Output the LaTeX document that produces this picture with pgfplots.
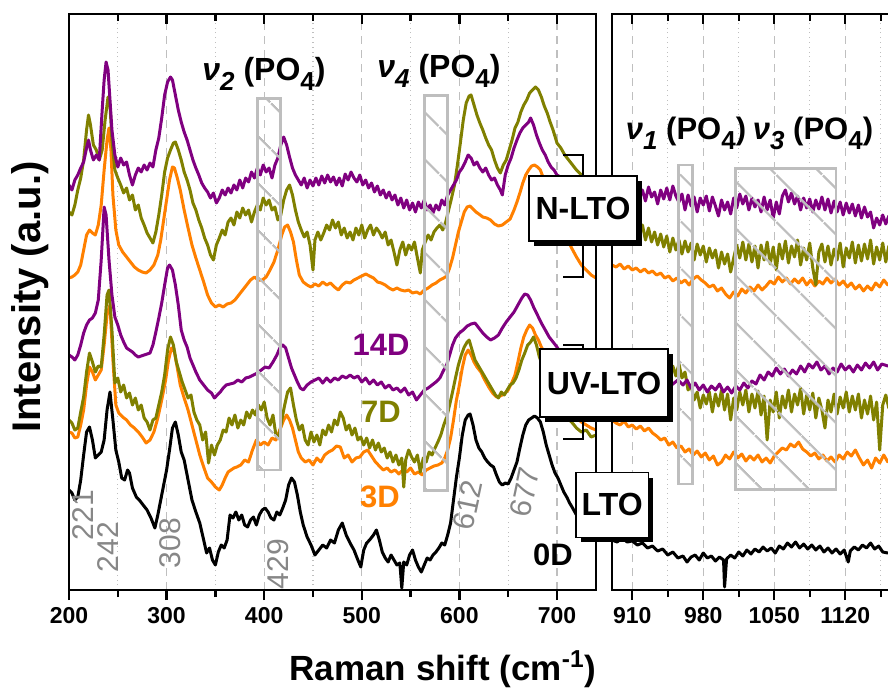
\documentclass[border=0pt]{standalone}
\usepackage{fontspec}
\setmainfont{Liberation Sans}
\usepackage{pgfplots}
\pgfplotsset{compat=1.18}
\usetikzlibrary{patterns.meta}
\definecolor{cpurple}{RGB}{128,0,128}
\definecolor{colive}{RGB}{128,128,0}
\definecolor{corange}{RGB}{255,128,0}
\definecolor{hgray}{RGB}{190,190,190}
\definecolor{lgray}{RGB}{135,135,135}
\newcommand\sub[1]{\raisebox{-0.32em}{\fontsize{13}{13}\selectfont #1}}
\tikzset{hatch/.style={hgray, line width=1.4pt, pattern={Lines[angle=-45,distance=17pt,line width=1.2pt]}, pattern color=hgray}}
\pgfplotsset{
 panel/.style={scale only axis, height=288pt, ymin=0, ymax=576, ytick=\empty,
   axis line style={line width=1.4pt},
   tick style={line width=1.2pt, black},
   major tick length=5pt, minor tick length=3.5pt,
   /pgf/number format/assume math mode=true, /pgf/number format/1000 sep={},
   xticklabel style={font=\bfseries\fontsize{11.5}{13}\selectfont},
   anchor=south west},
 bottompanel/.style={panel, xtick pos=left, tick align=outside, xmajorgrids, xminorgrids,
   major grid style={dash pattern=on 4pt off 3pt, line width=0.6pt, black!25},
   minor grid style={dotted, line width=0.6pt, black!25}},
 toppanel/.style={panel, xtick pos=right, tick align=inside, xticklabels={}},
 spec/.style={line width=1.5pt, line join=round, mark=none},
}
\begin{document}
\begin{tikzpicture}
\path[use as bounding box, clip] (0,0) rectangle (444pt,343.5pt);
% ---------------- left panel ----------------
\begin{axis}[bottompanel, at={(34.5pt,48.5pt)}, width=263.5pt, xmin=200, xmax=740, xtick={200,300,...,700}, minor xtick={250,350,...,650}]
% 0D LTO
\addplot[spec, black] coordinates {(200,100)(203,97)(206,90)(209,93)(212,110)(215,135)(218,158)(221,163)(224,150)(227,132)(230,135)(233,138)(236,150)(239,180)(242,198)(245,170)(248,140)(251,128)(254,112)(257,110)(260,120)(262,117)(265,102)(269,93)(272,90)(276,85)(280,80)(284,72)(288,62)(291,75)(294,90)(297,105)(300,120)(303,140)(306,162)(309,168)(312,155)(315,138)(318,130)(322,110)(326,90)(330,78)(334,67)(338,50)(341,37)(344,42)(347,30)(350,25)(353,38)(356,45)(359,42)(362,50)(365,75)(368,72)(371,78)(374,70)(377,75)(380,65)(383,63)(386,70)(389,73)(392,65)(395,75)(398,80)(401,82)(404,78)(407,72)(410,70)(413,78)(416,75)(419,82)(422,90)(425,105)(428,112)(431,108)(434,95)(437,78)(440,65)(444,53)(448,45)(452,35)(456,40)(460,45)(464,42)(468,50)(472,47)(476,60)(480,67)(484,55)(488,47)(492,40)(496,30)(499,23)(502,40)(505,47)(508,50)(512,55)(515,60)(518,50)(521,38)(524,32)(527,28)(530,35)(533,30)(536,25)(539,27)(541,2)(543,28)(546,25)(549,35)(552,40)(555,30)(558,23)(561,18)(564,25)(567,32)(570,30)(573,35)(576,38)(579,42)(582,47)(585,45)(588,55)(591,67)(594,90)(597,113)(600,132)(603,155)(606,170)(609,175)(611,176)(614,165)(617,150)(620,142)(623,138)(626,132)(629,128)(632,125)(635,123)(638,115)(641,108)(644,105)(647,107)(650,106)(653,112)(656,120)(659,128)(662,142)(665,155)(668,165)(671,170)(674,172)(677,174)(680,172)(683,168)(686,158)(689,145)(692,135)(695,125)(698,117)(701,112)(704,105)(707,98)(710,93)(713,87)(716,82)(720,75)(725,68)(730,62)(735,58)(740,55)};
% 3D UV-LTO
\addplot[spec, corange] coordinates {(200,158)(203,157)(206,152)(209,153)(212,165)(215,180)(218,205)(221,223)(224,218)(227,210)(230,215)(233,220)(236,245)(239,275)(242,285)(245,230)(248,185)(251,177)(255,173)(259,170)(263,165)(267,162)(271,158)(275,153)(279,147)(283,150)(287,158)(291,172)(295,190)(299,210)(302,230)(305,242)(308,238)(311,222)(314,205)(318,192)(322,180)(326,165)(330,150)(334,135)(338,123)(342,112)(346,108)(350,103)(354,100)(357,105)(360,112)(363,118)(366,120)(369,122)(372,123)(376,125)(380,130)(384,128)(388,140)(392,150)(396,145)(400,148)(404,145)(408,152)(412,150)(416,160)(420,170)(423,175)(426,170)(429,162)(432,150)(435,138)(438,132)(442,128)(446,130)(450,125)(454,132)(458,128)(462,135)(466,138)(470,140)(474,144)(478,143)(482,132)(486,135)(490,128)(494,132)(498,133)(502,138)(506,140)(510,134)(514,128)(518,124)(522,120)(526,122)(530,118)(534,120)(538,116)(542,120)(546,118)(550,122)(554,116)(558,118)(562,115)(566,120)(570,122)(574,124)(578,125)(582,127)(585,132)(588,140)(591,152)(594,170)(597,190)(600,205)(603,222)(606,235)(609,240)(612,235)(615,228)(618,223)(622,218)(626,210)(630,203)(634,197)(638,193)(642,194)(646,196)(650,200)(654,208)(657,215)(660,228)(663,242)(666,253)(669,260)(672,265)(675,262)(678,255)(681,250)(684,243)(687,238)(690,230)(695,218)(700,205)(705,195)(710,185)(715,178)(720,172)(725,168)(730,165)(735,162)(740,160)};
% 7D UV-LTO
\addplot[spec, colive] coordinates {(200,170)(203,167)(206,160)(209,162)(212,178)(215,193)(218,218)(221,237)(224,228)(227,218)(230,224)(233,223)(236,255)(239,295)(241,300)(244,260)(247,207)(250,212)(253,198)(256,205)(259,192)(262,197)(265,185)(268,192)(271,180)(274,185)(277,172)(280,168)(283,160)(286,170)(289,172)(292,185)(295,198)(298,215)(301,240)(304,253)(307,245)(310,228)(313,218)(316,208)(319,200)(322,192)(325,195)(328,178)(331,170)(334,165)(337,150)(340,158)(343,127)(346,145)(349,135)(352,145)(355,150)(358,160)(361,158)(364,172)(367,165)(370,175)(373,162)(376,170)(379,165)(382,178)(385,172)(388,180)(391,175)(394,185)(397,180)(400,188)(403,172)(406,165)(409,175)(412,155)(415,152)(418,170)(421,185)(424,198)(427,202)(430,185)(433,170)(436,160)(439,165)(442,150)(445,145)(448,158)(451,148)(454,155)(457,145)(460,160)(463,155)(466,165)(469,158)(472,170)(475,165)(478,178)(481,172)(484,160)(487,165)(490,155)(493,162)(496,150)(499,153)(502,145)(505,152)(508,142)(511,150)(514,140)(517,147)(520,138)(523,142)(526,132)(529,138)(532,128)(535,135)(538,125)(541,132)(543,103)(545,130)(548,140)(551,133)(554,128)(557,135)(560,118)(563,132)(566,128)(569,138)(572,135)(575,142)(578,148)(581,155)(584,165)(587,173)(590,185)(593,198)(596,212)(599,225)(602,235)(605,243)(608,248)(610,250)(613,240)(616,230)(619,225)(622,220)(625,215)(628,210)(631,205)(634,200)(637,195)(640,192)(643,198)(646,195)(649,200)(652,205)(655,207)(658,212)(661,220)(664,230)(667,237)(670,245)(673,248)(676,253)(679,245)(682,233)(685,225)(690,212)(695,200)(700,190)(705,180)(710,172)(715,168)(720,162)(725,158)(730,160)(735,153)(740,155)};
% 14D UV-LTO
\addplot[spec, cpurple] coordinates {(200,235)(203,233)(206,230)(209,235)(212,245)(215,257)(218,265)(221,270)(224,272)(227,277)(230,290)(233,330)(236,383)(238,375)(241,330)(244,295)(247,273)(250,265)(253,255)(256,248)(259,242)(262,240)(265,238)(268,235)(271,233)(274,234)(277,235)(280,236)(283,237)(286,245)(289,258)(292,272)(295,287)(298,305)(301,322)(303,325)(306,320)(309,305)(312,285)(315,260)(318,250)(321,243)(324,232)(327,225)(330,218)(334,210)(338,205)(342,200)(346,197)(349,192)(352,195)(355,198)(358,202)(361,205)(365,206)(369,207)(373,210)(377,208)(381,212)(385,213)(389,215)(393,217)(397,220)(401,223)(405,222)(409,228)(413,235)(416,242)(419,245)(422,242)(425,232)(428,222)(431,215)(434,208)(437,202)(440,200)(444,205)(448,208)(452,210)(456,212)(460,207)(464,212)(468,208)(472,212)(476,210)(480,214)(484,212)(488,215)(492,212)(496,214)(500,208)(504,212)(508,206)(512,210)(516,205)(520,208)(524,202)(528,205)(532,200)(536,202)(540,198)(544,202)(548,195)(552,198)(556,190)(560,195)(564,200)(568,202)(572,205)(576,208)(580,212)(584,220)(587,225)(590,235)(593,245)(596,252)(600,257)(604,260)(608,264)(612,266)(616,267)(620,262)(624,257)(628,253)(632,250)(636,252)(640,255)(644,262)(648,268)(652,273)(656,278)(660,285)(664,292)(667,296)(670,295)(673,290)(676,283)(680,275)(684,267)(688,260)(692,253)(696,248)(700,243)(705,235)(710,228)(715,223)(720,218)(725,215)(730,212)(735,210)(740,208)};
% 3D N-LTO
\addplot[spec, corange] coordinates {(200,312)(203,313)(206,315)(209,318)(212,325)(215,340)(218,355)(221,360)(224,357)(227,355)(230,365)(233,385)(236,420)(239,450)(241,462)(243,440)(245,395)(248,360)(251,345)(255,338)(259,333)(263,328)(267,323)(271,320)(275,318)(279,317)(283,320)(287,325)(291,335)(294,350)(297,370)(300,390)(303,410)(306,423)(308,422)(311,412)(314,400)(318,380)(322,362)(326,345)(330,332)(334,320)(338,308)(342,295)(346,287)(350,283)(354,285)(358,283)(362,286)(366,287)(370,290)(374,295)(378,300)(382,305)(386,310)(390,313)(394,310)(398,310)(402,313)(406,320)(410,328)(414,340)(418,355)(421,363)(424,365)(427,358)(430,348)(433,330)(436,315)(440,308)(444,305)(448,303)(452,306)(456,304)(460,308)(464,305)(468,307)(472,303)(476,300)(480,305)(484,308)(488,307)(492,310)(496,312)(500,314)(504,316)(508,314)(512,312)(516,308)(520,307)(524,305)(528,302)(532,300)(536,302)(540,300)(544,299)(548,300)(552,297)(556,298)(560,296)(564,300)(568,302)(572,305)(576,307)(580,310)(584,312)(587,314)(590,322)(593,332)(596,345)(599,358)(602,368)(605,378)(608,383)(611,384)(614,381)(617,378)(620,376)(624,373)(628,372)(632,370)(636,366)(640,364)(644,365)(648,368)(652,371)(656,380)(659,388)(662,397)(665,407)(668,415)(671,420)(674,424)(677,425)(680,423)(683,420)(686,412)(690,400)(695,385)(700,375)(705,365)(710,352)(715,342)(720,333)(725,325)(730,320)(735,315)(740,312)};
% 7D N-LTO
\addplot[spec, colive] coordinates {(200,378)(203,375)(206,385)(209,400)(212,412)(215,430)(218,460)(220,475)(222,465)(225,445)(228,440)(231,430)(234,440)(237,470)(240,493)(242,485)(244,450)(247,420)(250,412)(253,405)(256,397)(259,402)(262,390)(265,395)(268,380)(271,385)(274,372)(277,365)(280,357)(283,352)(286,347)(289,358)(292,375)(295,395)(298,418)(301,432)(304,440)(307,447)(309,448)(312,440)(315,430)(318,418)(321,410)(324,400)(327,387)(330,380)(333,370)(336,362)(339,352)(342,345)(345,335)(348,330)(351,345)(354,352)(357,360)(360,355)(363,368)(366,372)(369,365)(372,378)(375,372)(378,382)(381,375)(384,380)(387,368)(390,378)(393,385)(396,380)(399,392)(402,385)(405,390)(408,380)(411,383)(414,370)(417,375)(420,390)(423,400)(426,405)(429,395)(432,380)(435,368)(438,360)(441,353)(444,358)(447,345)(450,320)(452,350)(455,358)(458,350)(461,357)(464,365)(467,360)(470,370)(473,362)(476,368)(479,355)(482,362)(485,352)(488,358)(491,350)(494,362)(497,355)(500,365)(503,352)(506,360)(509,365)(512,355)(515,362)(518,358)(521,352)(524,358)(527,345)(530,350)(533,338)(536,325)(539,340)(542,348)(545,335)(548,345)(551,340)(554,348)(557,332)(560,317)(562,340)(565,348)(568,355)(571,350)(574,358)(577,362)(580,365)(583,360)(586,368)(589,380)(592,392)(595,405)(598,425)(601,447)(604,470)(607,487)(610,494)(612,495)(615,485)(618,475)(621,467)(624,460)(627,452)(630,445)(633,440)(636,430)(639,422)(642,417)(645,425)(648,430)(651,440)(654,450)(657,462)(660,468)(663,478)(666,485)(669,490)(672,497)(675,500)(678,503)(681,500)(684,493)(687,484)(690,477)(693,468)(696,460)(700,447)(704,442)(708,435)(712,430)(716,425)(720,420)(725,415)(730,410)(735,405)(740,400)};
% 14D N-LTO
\addplot[spec, cpurple] coordinates {(200,405)(203,400)(206,410)(209,415)(212,422)(215,428)(218,442)(220,450)(222,440)(225,430)(228,435)(231,430)(234,480)(236,510)(238,528)(240,520)(242,490)(244,460)(247,435)(250,423)(253,432)(256,425)(259,428)(262,415)(265,405)(268,415)(271,422)(274,418)(277,425)(280,420)(283,427)(286,423)(289,440)(292,452)(295,472)(298,495)(301,508)(304,513)(306,510)(309,495)(312,480)(315,468)(318,458)(321,450)(324,440)(327,430)(330,422)(333,415)(336,407)(339,402)(342,398)(345,392)(348,397)(351,387)(354,392)(357,400)(360,395)(363,402)(366,397)(369,405)(372,400)(375,410)(378,402)(381,412)(384,408)(387,418)(390,412)(393,422)(396,415)(399,425)(402,418)(405,422)(408,412)(411,425)(414,432)(417,445)(420,453)(423,445)(426,433)(429,422)(432,415)(435,410)(438,405)(441,412)(444,402)(447,410)(450,404)(453,412)(456,405)(459,414)(462,407)(465,415)(468,408)(471,413)(474,405)(477,412)(480,404)(483,416)(486,410)(489,418)(492,412)(495,408)(498,415)(501,405)(504,410)(507,402)(510,407)(513,398)(516,404)(519,395)(522,400)(525,392)(528,398)(531,390)(534,395)(537,385)(540,392)(543,382)(546,390)(549,380)(552,387)(555,378)(558,388)(561,382)(564,390)(567,380)(570,385)(573,377)(576,385)(579,380)(582,390)(585,385)(588,395)(591,400)(594,405)(597,410)(600,418)(603,422)(606,428)(609,435)(612,432)(615,425)(618,428)(621,422)(624,418)(627,422)(630,415)(633,410)(636,412)(639,405)(642,400)(644,395)(647,415)(650,425)(653,432)(656,442)(659,450)(662,457)(665,462)(668,465)(671,468)(673,472)(676,465)(679,455)(682,447)(685,440)(688,435)(691,428)(694,423)(697,420)(700,415)(705,412)(710,408)(715,405)(720,402)(725,400)(730,398)(735,397)(740,395)};
\draw[hatch] (axis cs:393.3,120) rectangle (axis cs:416.4,491.3);
\draw[hatch] (axis cs:564.1,99.3) rectangle (axis cs:588,494.3);
\end{axis}
\begin{axis}[toppanel, at={(34.5pt,48.5pt)}, width=263.5pt, xmin=200, xmax=740, xtick={200,300,...,700}, minor xtick={250,350,...,650}]
\end{axis}
% ---------------- right panel ----------------
\begin{axis}[bottompanel, at={(306pt,48.5pt)}, width=152.1pt, xmin=890, xmax=1190, xtick={910,980,1050,1120}, minor xtick={945,1015,1085,1155}]
\addplot[spec, black] coordinates {(890,50)(895,48)(900,52)(905,48)(910,49)(915,45)(920,47)(925,42)(930,44)(935,39)(940,41)(945,35)(950,38)(955,32)(960,34)(964,28)(968,33)(972,35)(976,30)(980,37)(984,32)(988,34)(992,29)(996,33)(1000,30)(1001,3)(1003,31)(1007,35)(1011,32)(1015,38)(1019,34)(1023,40)(1027,36)(1031,41)(1035,38)(1039,43)(1043,39)(1047,42)(1051,37)(1055,44)(1059,41)(1063,47)(1067,43)(1071,48)(1075,42)(1079,46)(1083,41)(1087,45)(1091,40)(1095,44)(1099,38)(1103,42)(1107,37)(1111,41)(1115,36)(1119,40)(1123,28)(1125,39)(1129,43)(1133,40)(1137,45)(1141,42)(1145,47)(1149,41)(1153,44)(1157,38)(1162,37)(1170,40)(1180,38)(1190,41)};
\addplot[spec, corange] coordinates {(890,170)(894,167)(898,165)(902,169)(906,163)(910,165)(914,161)(918,164)(922,159)(926,162)(930,157)(934,154)(938,150)(942,152)(946,145)(950,148)(954,142)(958,144)(962,138)(966,141)(970,135)(974,139)(978,133)(982,137)(986,130)(990,134)(994,125)(998,128)(1002,135)(1006,131)(1010,138)(1014,132)(1018,136)(1022,129)(1026,134)(1030,130)(1034,135)(1038,128)(1042,132)(1046,127)(1050,134)(1054,138)(1058,142)(1062,140)(1066,146)(1070,143)(1074,148)(1078,141)(1082,138)(1086,134)(1090,137)(1094,131)(1098,135)(1102,129)(1106,133)(1110,128)(1114,135)(1118,131)(1122,138)(1126,134)(1130,140)(1134,132)(1138,125)(1142,130)(1146,122)(1150,132)(1154,127)(1158,135)(1162,128)(1170,132)(1180,129)(1190,133)};
\addplot[spec, colive] coordinates {(890,232)(893,222)(896,230)(899,218)(902,228)(905,216)(908,226)(911,214)(914,225)(917,212)(920,223)(923,210)(926,222)(929,208)(932,220)(935,207)(938,219)(941,206)(944,218)(947,210)(950,224)(953,214)(956,226)(959,212)(962,218)(965,200)(968,205)(971,190)(974,198)(977,182)(980,195)(983,186)(986,198)(989,178)(992,196)(995,184)(998,200)(1001,180)(1004,196)(1007,170)(1010,192)(1013,180)(1016,198)(1019,185)(1022,200)(1025,178)(1028,196)(1031,182)(1034,199)(1037,175)(1040,194)(1043,150)(1046,190)(1049,178)(1052,198)(1055,172)(1058,194)(1061,182)(1064,200)(1067,178)(1070,196)(1073,185)(1076,202)(1079,176)(1082,195)(1085,180)(1088,197)(1091,172)(1094,192)(1097,180)(1100,162)(1103,190)(1106,178)(1109,196)(1112,176)(1115,193)(1118,182)(1121,198)(1124,178)(1127,194)(1130,180)(1133,196)(1136,172)(1139,190)(1142,176)(1145,194)(1148,170)(1151,188)(1154,140)(1157,185)(1160,195)(1163,182)(1170,188)(1180,182)(1190,186)};
\addplot[spec, cpurple] coordinates {(890,215)(895,212)(900,217)(905,210)(910,214)(915,208)(920,212)(925,206)(930,210)(935,204)(940,208)(945,202)(950,206)(955,210)(960,205)(964,210)(968,202)(972,207)(976,200)(980,205)(984,198)(988,204)(992,200)(996,206)(1000,198)(1004,203)(1008,197)(1012,204)(1016,200)(1020,207)(1024,202)(1028,209)(1032,206)(1036,215)(1040,210)(1044,218)(1048,214)(1052,222)(1056,216)(1060,221)(1064,214)(1068,220)(1072,216)(1076,224)(1080,218)(1084,226)(1088,222)(1092,228)(1096,220)(1100,224)(1104,216)(1108,222)(1112,218)(1116,226)(1120,220)(1124,224)(1128,218)(1132,225)(1136,220)(1140,227)(1144,222)(1148,228)(1152,220)(1156,226)(1162,224)(1170,226)(1180,222)(1190,225)};
\addplot[spec, corange] coordinates {(890,325)(894,323)(898,326)(902,321)(906,324)(910,320)(914,322)(918,318)(922,321)(926,317)(930,319)(934,315)(938,317)(942,312)(946,314)(950,309)(954,312)(958,307)(962,310)(966,305)(970,311)(974,314)(978,310)(982,307)(986,303)(990,305)(994,299)(998,302)(1002,296)(1006,292)(1010,298)(1014,294)(1018,301)(1022,297)(1026,303)(1030,299)(1034,305)(1038,300)(1042,304)(1046,309)(1050,306)(1054,313)(1058,308)(1062,312)(1066,306)(1070,311)(1074,307)(1078,312)(1082,305)(1086,310)(1090,304)(1094,309)(1098,306)(1102,312)(1106,307)(1110,311)(1114,305)(1118,309)(1122,303)(1126,307)(1130,301)(1134,305)(1138,299)(1142,304)(1146,300)(1150,307)(1154,303)(1158,310)(1162,305)(1170,308)(1180,304)(1190,307)};
\addplot[spec, colive] coordinates {(890,378)(893,366)(896,374)(899,362)(902,371)(905,360)(908,369)(911,357)(914,367)(917,355)(920,365)(923,350)(926,362)(929,348)(932,358)(935,345)(938,356)(941,343)(944,354)(947,338)(950,352)(953,340)(956,350)(959,336)(962,349)(965,338)(968,347)(971,330)(974,346)(977,335)(980,344)(983,328)(986,342)(989,332)(992,340)(995,322)(998,338)(1001,326)(1004,336)(1007,318)(1010,332)(1013,345)(1016,332)(1019,348)(1022,330)(1025,346)(1028,328)(1031,344)(1034,322)(1037,345)(1040,330)(1043,348)(1046,326)(1049,343)(1052,320)(1055,346)(1058,331)(1061,349)(1064,327)(1067,344)(1070,333)(1073,350)(1076,325)(1079,342)(1082,330)(1085,347)(1088,322)(1091,305)(1094,338)(1097,346)(1100,328)(1103,344)(1106,325)(1109,341)(1112,330)(1115,347)(1118,323)(1121,342)(1124,332)(1127,348)(1130,327)(1133,345)(1136,329)(1139,346)(1142,331)(1145,350)(1148,326)(1151,343)(1154,330)(1157,347)(1160,328)(1163,344)(1170,335)(1180,340)(1190,336)};
\addplot[spec, cpurple] coordinates {(890,398)(893,388)(896,400)(899,390)(902,402)(905,391)(908,399)(911,387)(914,401)(917,392)(920,400)(923,389)(926,403)(929,393)(932,398)(935,386)(938,400)(941,391)(944,402)(947,390)(950,404)(953,394)(956,388)(959,396)(962,380)(965,395)(968,384)(971,393)(974,378)(977,392)(980,385)(983,394)(986,379)(989,393)(992,384)(995,374)(998,390)(1001,380)(1004,388)(1007,376)(1010,392)(1013,382)(1016,396)(1019,386)(1022,394)(1025,380)(1028,392)(1031,383)(1034,390)(1037,378)(1040,393)(1043,380)(1046,390)(1049,372)(1052,388)(1055,376)(1058,394)(1061,400)(1064,388)(1067,397)(1070,386)(1073,394)(1076,380)(1079,392)(1082,382)(1085,391)(1088,378)(1091,390)(1094,381)(1097,393)(1100,380)(1103,391)(1106,377)(1109,389)(1112,378)(1115,388)(1118,375)(1121,387)(1124,377)(1127,386)(1130,374)(1133,385)(1136,372)(1139,383)(1142,373)(1145,378)(1148,362)(1151,372)(1154,365)(1157,375)(1160,366)(1163,374)(1170,370)(1180,375)(1190,371)};
\draw[hatch] (axis cs:955.8,106) rectangle (axis cs:969.2,425);
\draw[hatch] (axis cs:1012,100.7) rectangle (axis cs:1110.9,421.7);
\end{axis}
\begin{axis}[toppanel, at={(306pt,48.5pt)}, width=152.1pt, xmin=890, xmax=1190, xtick={910,980,1050,1120}, minor xtick={945,1015,1085,1155}]
\end{axis}
% ---------------- brackets and group boxes ----------------
\draw[line width=1pt] (281.5pt,266pt) -- (291.5pt,266pt) -- (291.5pt,205pt) -- (281.5pt,205pt);
\draw[line width=1pt] (281.5pt,171pt) -- (291.5pt,171pt) -- (291.5pt,124pt) -- (281.5pt,124pt);
\fill[black] (267pt,220.5pt) rectangle (321pt,253pt);
\draw[fill=white, line width=0.7pt] (264.5pt,223pt) rectangle node{\bfseries\fontsize{16}{18}\selectfont N-LTO} (318.5pt,255.5pt);
\fill[black] (272.5pt,132.5pt) rectangle (336.5pt,166.5pt);
\draw[fill=white, line width=0.7pt] (270pt,135pt) rectangle node{\bfseries\fontsize{16}{18}\selectfont UV-LTO} (334pt,169pt);
\fill[black] (290.4pt,72.4pt) rectangle (326.7pt,104.7pt);
\draw[fill=white, line width=0.7pt] (287.9pt,74.9pt) rectangle node{\bfseries\fontsize{16}{18}\selectfont LTO} (324.2pt,107.2pt);
% ---------------- labels ----------------
\node[font=\bfseries\fontsize{16}{18}\selectfont, anchor=base] at (132pt,303.2pt) {\textit{ν\sub{2}} (PO\sub{4})};
\node[font=\bfseries\fontsize{16}{18}\selectfont, anchor=base] at (219.5pt,304.8pt) {\textit{ν\sub{4}} (PO\sub{4})};
\node[font=\bfseries\fontsize{15.5}{18}\selectfont, anchor=base] at (343pt,273.9pt) {\textit{ν\sub{1}} (PO\sub{4})};
\node[font=\bfseries\fontsize{15.5}{18}\selectfont, anchor=base] at (406.5pt,273.9pt) {\textit{ν\sub{3}} (PO\sub{4})};
\node[font=\bfseries\fontsize{15.5}{17}\selectfont, text=cpurple] at (190.5pt,171pt) {14D};
\node[font=\bfseries\fontsize{15.5}{17}\selectfont, text=colive] at (190.5pt,137.5pt) {7D};
\node[font=\bfseries\fontsize{15.5}{17}\selectfont, text=corange] at (190pt,95pt) {3D};
\node[font=\bfseries\fontsize{15.5}{17}\selectfont] at (276.5pt,66pt) {0D};
\node[font=\fontsize{15}{17}\selectfont, text=lgray, rotate=90] at (41.75pt,86pt) {221};
\node[font=\fontsize{15}{17}\selectfont, text=lgray, rotate=90] at (54.25pt,70pt) {242};
\node[font=\fontsize{15}{17}\selectfont, text=lgray, rotate=90] at (85pt,72pt) {308};
\node[font=\fontsize{15}{17}\selectfont, text=lgray, rotate=90] at (139pt,61.5pt) {429};
\node[font=\fontsize{15}{17}\selectfont, text=lgray, rotate=78] at (234pt,91pt) {612};
\node[font=\fontsize{15}{17}\selectfont, text=lgray, rotate=78] at (262.5pt,97.5pt) {677};
\node[font=\bfseries\fontsize{17.5}{19}\selectfont, anchor=base] at (221.5pt,3.5pt) {Raman shift (cm\textsuperscript{-1})};
\node[font=\bfseries\fontsize{20}{22}\selectfont, rotate=90] at (15pt,195pt) {Intensity (a.u.)};
\end{tikzpicture}
\end{document}
